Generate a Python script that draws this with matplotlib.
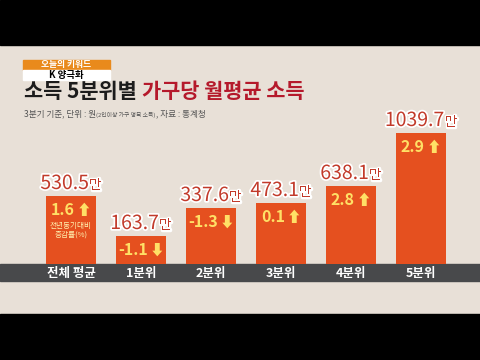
import matplotlib
matplotlib.use("Agg")
import matplotlib.pyplot as plt
from matplotlib.patches import Rectangle
from matplotlib.offsetbox import TextArea, HPacker, AnnotationBbox
import matplotlib.patheffects as pe

plt.rcParams['font.family'] = ['Noto Sans CJK KR', 'DejaVu Sans']

# Data
categories = ['전체 평균', '1분위', '2분위', '3분위', '4분위', '5분위']
income = ['530.5', '163.7', '337.6', '473.1', '638.1', '1039.7']   # 만원
change = [1.6, -1.1, -1.3, 0.1, 2.8, 2.9]                         # 전년동기대비 %
bar_height = [68, 28, 56, 61, 78, 131]                             # drawn height as in picture

bar_color = '#e5501f'
label_red = '#c23a2a'
yellow = '#ffe066'

fig = plt.figure(figsize=(4.8, 3.6), dpi=100)

# background / decoration layer in pixel coords
bg = fig.add_axes([0, 0, 1, 1])
bg.set_xlim(0, 480)
bg.set_ylim(360, 0)
bg.axis('off')
bg.add_patch(Rectangle((0, 0), 480, 360, color='#e8e0d7'))
bg.add_patch(Rectangle((0, 0), 480, 45, color='black'))
bg.add_patch(Rectangle((0, 314), 480, 46, color='black'))
bg.add_patch(Rectangle((0, 264), 480, 17, color='#48494b'))

# keyword tag
bg.add_patch(Rectangle((23, 60), 87, 9.5, color='#e98a1c'))
bg.add_patch(Rectangle((23, 69.5), 87, 10.5, color='white'))
bg.text(66, 64.6, '오늘의 키워드', color='white', fontsize=6.3, fontweight='bold', ha='center', va='center')
bg.text(66, 74.8, 'K 양극화', color='black', fontsize=6.8, fontweight='bold', ha='center', va='center')

# title
t1 = bg.text(24, 92, '소득 5분위별 ', color='#1c1c1c', fontsize=15, fontweight='bold', va='center')
bg.annotate('가구당 월평균 소득', xy=(1, 0.5), xycoords=t1, va='center', ha='left',
            color='#b5192b', fontsize=15, fontweight='bold')

sub = TextArea('3분기 기준, 단위 : 원', textprops=dict(color='#555555', fontsize=6.2))
sub2 = TextArea('(2인이상 가구 명목 소득)', textprops=dict(color='#555555', fontsize=4.2))
sub3 = TextArea(', 자료 : 통계청', textprops=dict(color='#555555', fontsize=6.2))
box = HPacker(children=[sub, sub2, sub3], align='baseline', pad=0, sep=0)
bg.add_artist(AnnotationBbox(box, (24, 114), xycoords='data', box_alignment=(0, 0.5),
                             frameon=False, pad=0))

# bars
ax = fig.add_axes([0, (360 - 264) / 360, 1, (264 - 45) / 360])
ax.patch.set_alpha(0)
ax.axis('off')
x = list(range(len(categories)))
ax.bar(x, bar_height, width=50 / 70, color=bar_color)
ax.set_xlim(-71 / 70, (480 - 71) / 70)
ax.set_ylim(0, 264 - 45)

halo = [pe.withStroke(linewidth=2.5, foreground='white')]
for i, (h, v, c) in enumerate(zip(bar_height, income, change)):
    num = TextArea(v, textprops=dict(color=label_red, fontsize=14, path_effects=halo))
    man = TextArea('만', textprops=dict(color=label_red, fontsize=10, path_effects=halo))
    lab = HPacker(children=[num, man], align='baseline', pad=0, sep=0)
    ax.add_artist(AnnotationBbox(lab, (i, h + 2), xycoords='data', box_alignment=(0.5, 0),
                                 frameon=False, pad=0))
    arrow = '⬆' if c >= 0 else '⬇'
    inner = TextArea(f'{c:.1f}', textprops=dict(color=yellow, fontsize=11.5, fontweight='bold'))
    arr = TextArea(arrow, textprops=dict(color=yellow, fontsize=10.5, fontweight='bold'))
    lab2 = HPacker(children=[inner, arr], align='center', pad=0, sep=1)
    ax.add_artist(AnnotationBbox(lab2, (i, h - 14), xycoords='data', box_alignment=(0.5, 0.5),
                                 frameon=False, pad=0))

ax.text(0, 68 - 34, '전년동기대비\n증감률(%)', color='#fff2b0', fontsize=5.5,
        ha='center', va='center', linespacing=1.1)

for i, name in enumerate(categories):
    ax.text(i, -9, name, color='white', fontsize=9, fontweight='bold',
            ha='center', va='center', clip_on=False)

fig.savefig('out.png', dpi=100)
